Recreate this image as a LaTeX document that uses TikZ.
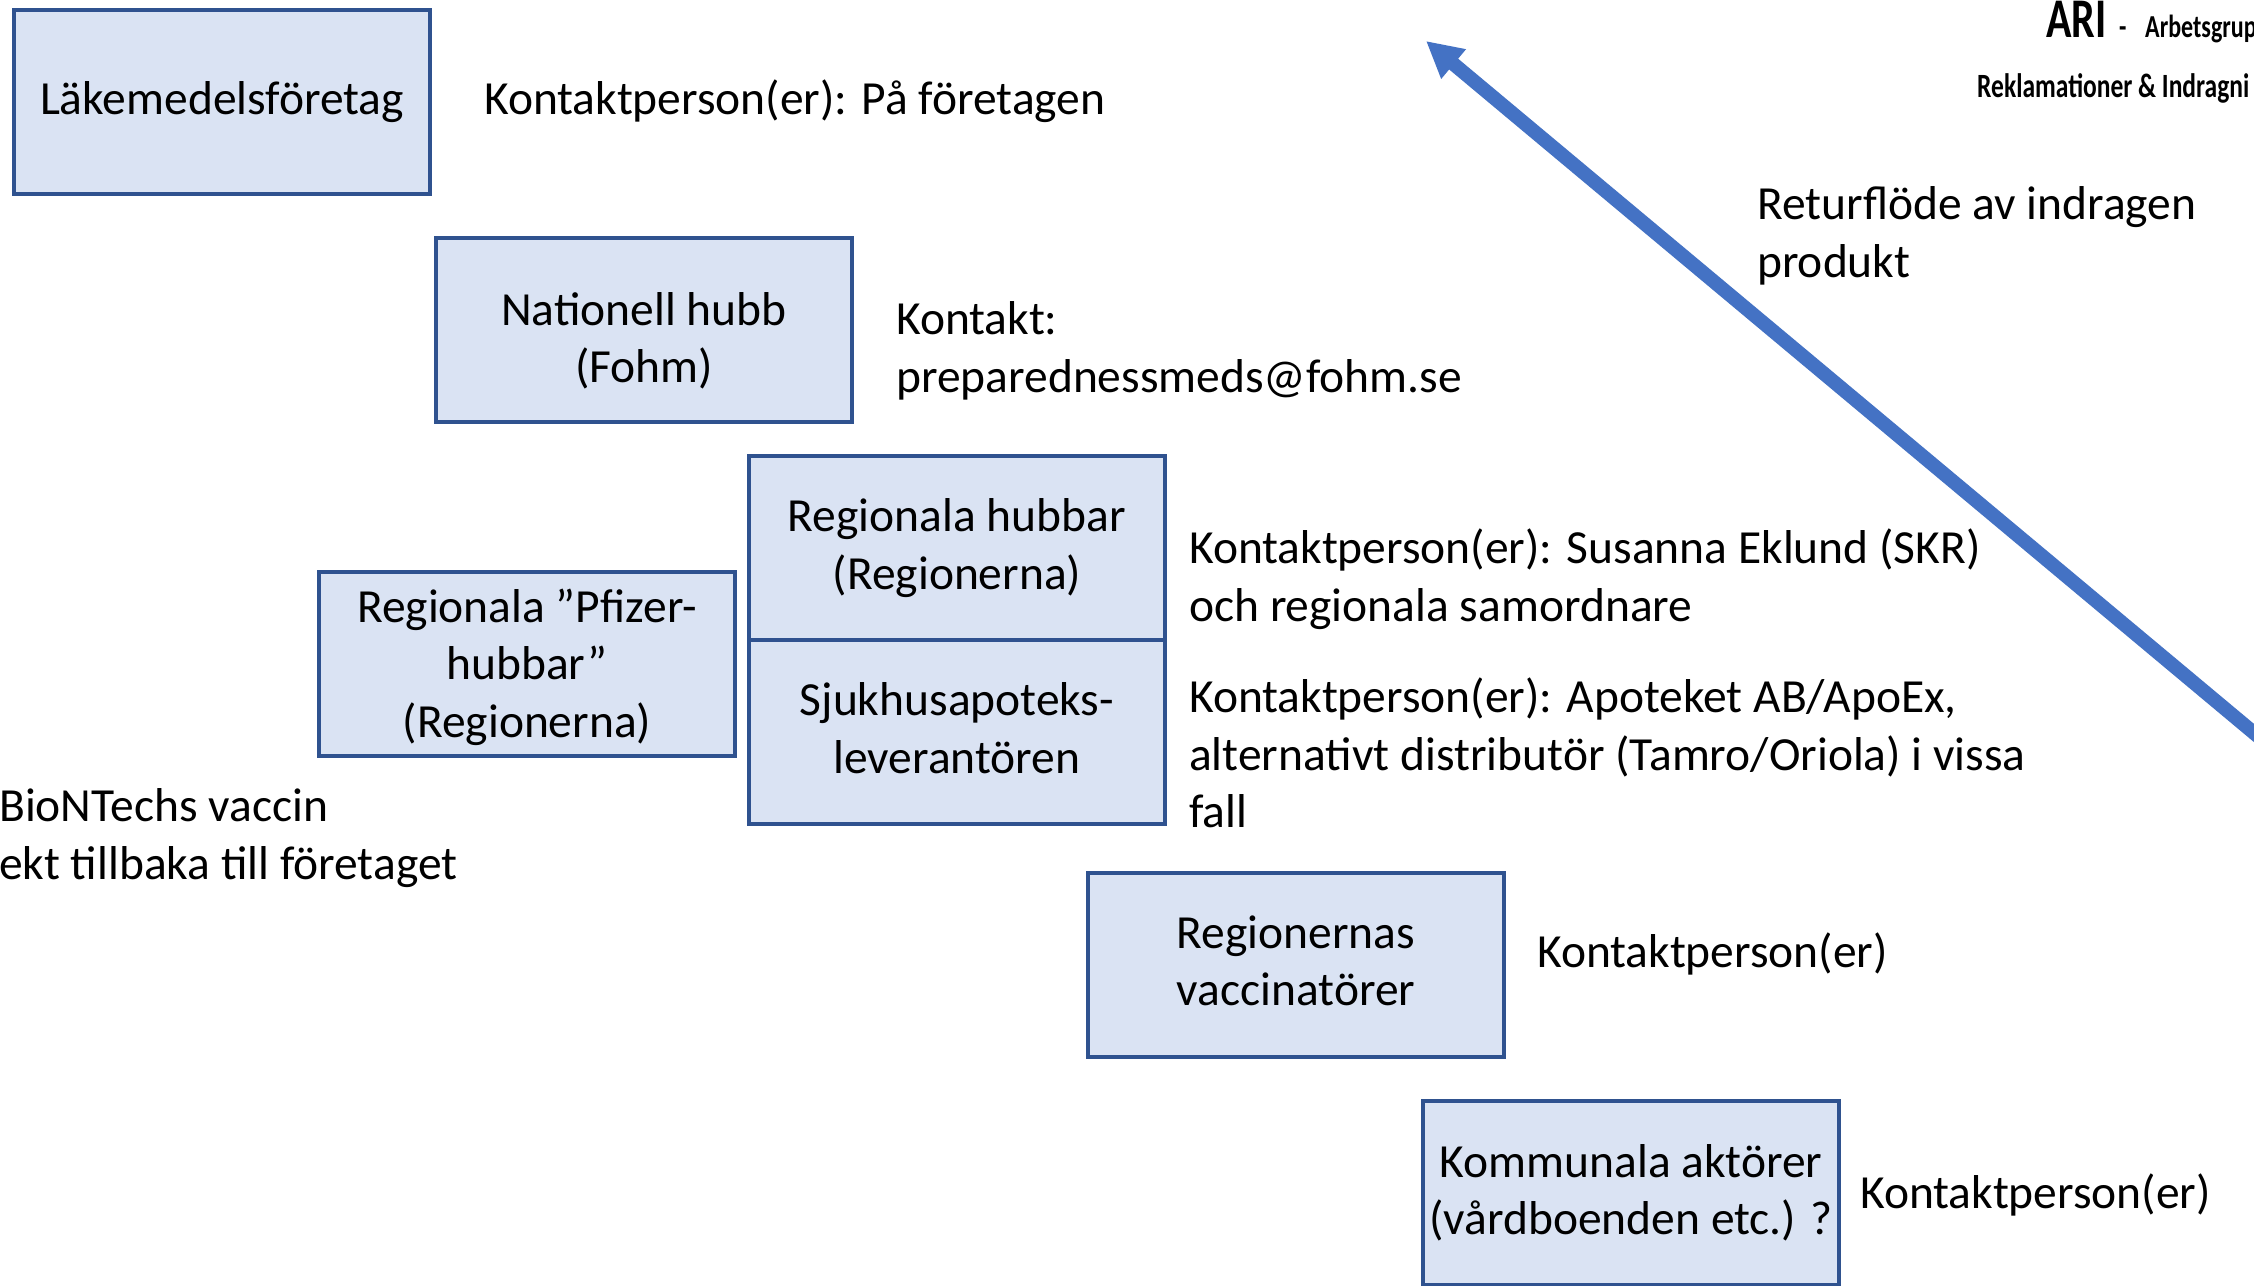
\documentclass[tikz,border=0pt]{standalone}
\usepackage{fontspec}
\setmainfont{Carlito}
\newfontfamily\arifont[FakeStretch=0.75]{Carlito}
\usetikzlibrary{arrows.meta}
\definecolor{boxfill}{HTML}{DAE3F3}
\definecolor{boxdraw}{HTML}{2F528F}
\definecolor{arrowblue}{HTML}{4472C4}
\tikzset{
  txt/.style={font=\fontsize{47.5}{57.5}\selectfont},
  stage/.style={draw=boxdraw, fill=boxfill, line width=4pt, minimum width=416pt, minimum height=184pt,
    align=center, inner sep=0pt, txt},
  info/.style={anchor=west, align=left, inner sep=0pt, txt},
  shifted/.style={label={[txt, align=center, yshift=#1]center:\shiftedtext}},
}
\begin{document}
\begin{tikzpicture}[x=1pt,y=-1pt]
\useasboundingbox (0,0) rectangle (2254,1285);
\clip (0,0) rectangle (2254,1285);
\fill[white] (0,0) rectangle (2254,1285);

\node[stage] (b1) at (222,102) {Läkemedelsföretag};
\node[stage, label={[txt, align=center, yshift=-11pt]center:Nationell hubb\\(Fohm)}] (b2) at (644,330) {};
\node[stage] (b3) at (957,548) {Regionala hubbar\\(Regionerna)};
\node[stage, label={[txt, align=center, yshift=4pt]center:Sjukhusapoteks-\\leverantören}] (b4) at (957,732) {};
\node[stage, label={[txt, align=center, yshift=-3pt]center:Regionala ”Pfizer-\\hubbar”\\(Regionerna)}] (b5) at (527,664) {};
\node[stage, label={[txt, align=center, yshift=4pt]center:Regionernas\\vaccinatörer}] (b6) at (1296,965) {};
\node[stage] (b7) at (1631,1193) {Kommunala aktörer\\(vårdboenden etc.) ?};

\node[info] (t1) at (484,101) {Kontaktperson(er): På företagen};
\node[info] (t2) at (896,351) {Kontakt:\\preparednessmeds@fohm.se};
\node[info] (t3) at (1189,579) {Kontaktperson(er): Susanna Eklund (SKR)\\och regionala samordnare};
\node[info] (t4) at (1189,753) {Kontaktperson(er): Apoteket AB/ApoEx,\\alternativt distributör (Tamro/Oriola) i vissa\\fall};
\node[info] (t5) at (1537,954) {Kontaktperson(er)};
\node[info] (t6) at (1860,1195) {Kontaktperson(er)};
\node[info] (t7) at (1757,236) {Returflöde av indragen\\produkt};
\node[info] (t8) at (-1,838) {BioNTechs vaccin\\ekt tillbaka till företaget};

\node[anchor=base west, inner sep=0pt, font=\arifont\bfseries\fontsize{56}{60}\selectfont] (ari) at (2046,37) {ARI};
\node[anchor=base west, inner sep=0pt, font=\arifont\bfseries\fontsize{32}{34}\selectfont] (dash) at (2119,37) {-};
\node[anchor=base west, inner sep=0pt, font=\arifont\bfseries\fontsize{32}{34}\selectfont] (arb) at (2145,37) {Arbetsgrup};
\node[anchor=base west, inner sep=0pt, font=\arifont\bfseries\fontsize{34}{36}\selectfont] (rek) at (1977,97) {Reklamationer \& Indragni};

\coordinate (aStart) at (2400,855);
\coordinate (aTip) at (1426,41);
\draw[arrowblue, line width=14pt, -{Triangle[length=36pt, width=36pt]}] (aStart) -- (aTip);
\end{tikzpicture}
\end{document}
